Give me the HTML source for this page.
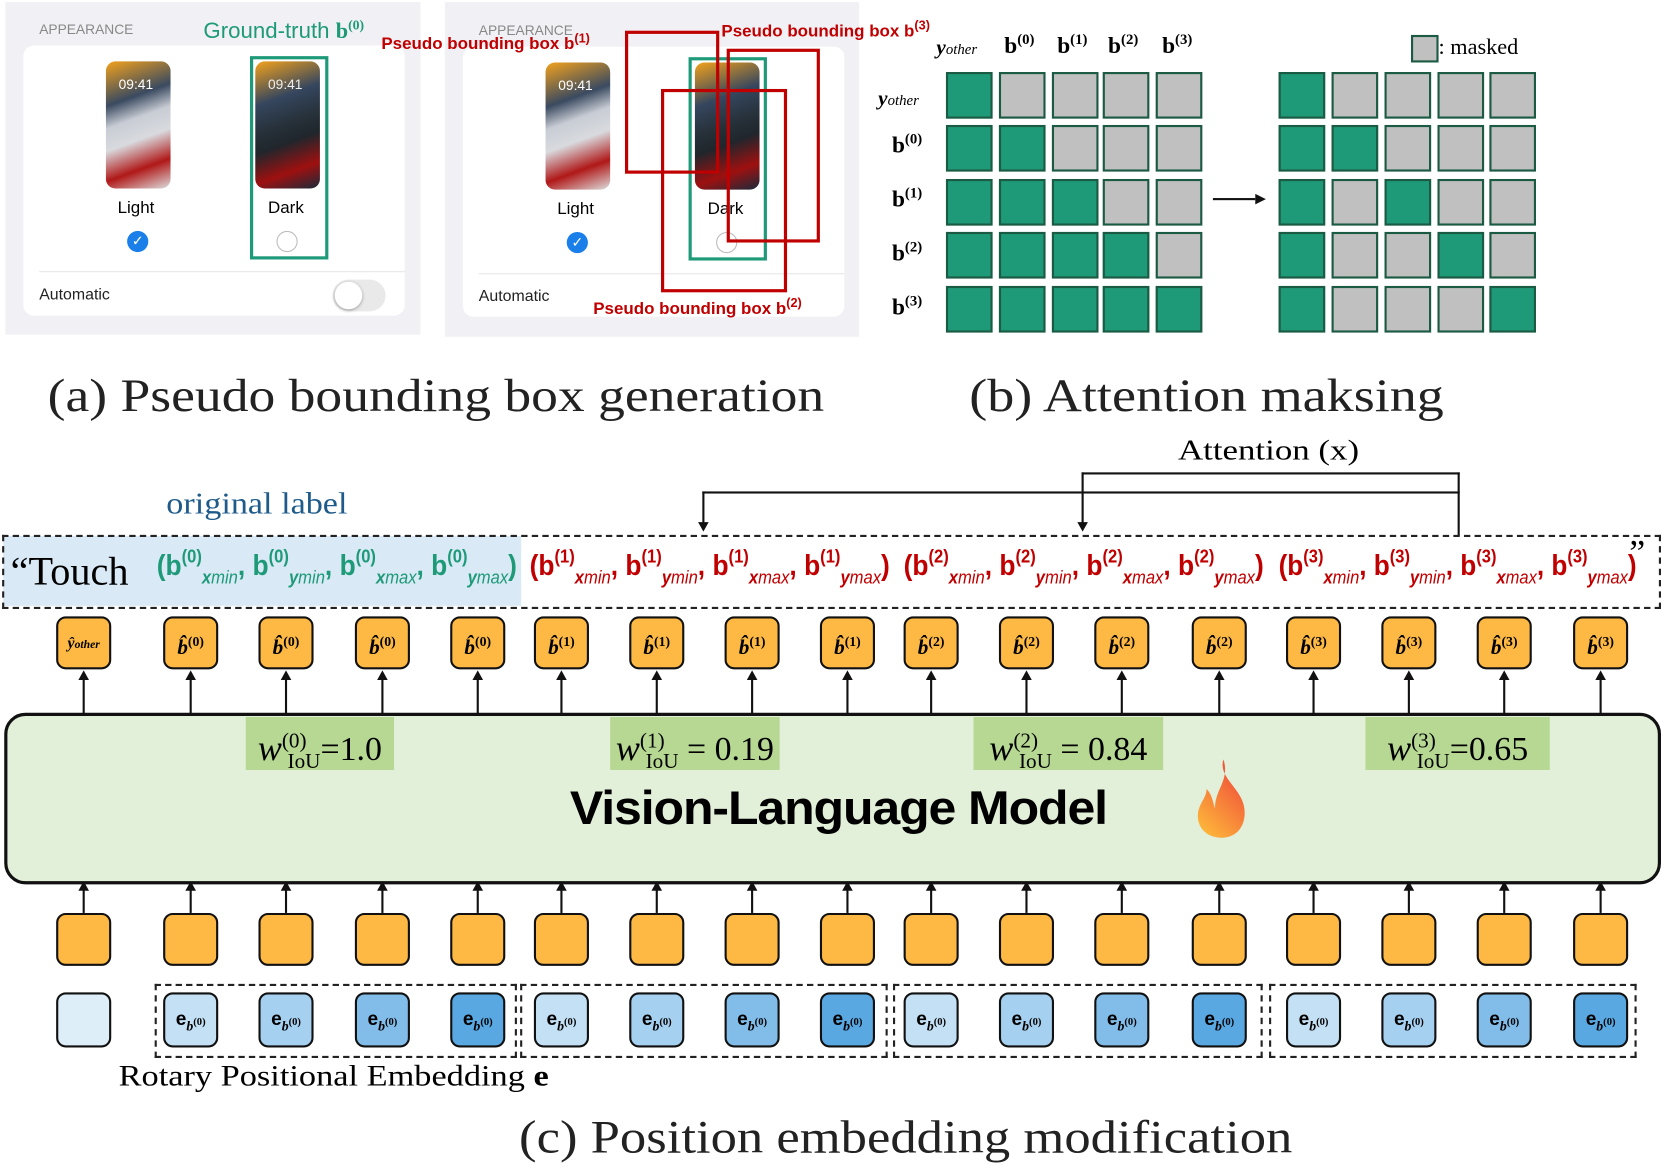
<!DOCTYPE html>
<html><head><meta charset="utf-8">
<style>
html,body{margin:0;padding:0;background:#fff;width:1661px;height:1165px;overflow:hidden}
#s{position:absolute;left:0;top:0;width:1568px;height:1100px;transform:scale(1.05931,1.0591);transform-origin:0 0;font-family:"Liberation Sans",sans-serif}
.a{position:absolute}
.serif{font-family:"Liberation Serif",serif}
.tok{position:absolute;width:52px;height:50px;background:#fdb944;border:2.5px solid #111;border-radius:9px;box-sizing:border-box;text-align:center;font-family:"Liberation Serif",serif;font-weight:bold;font-style:italic;font-size:20px;line-height:44px}
.tok sup{font-size:13px;font-style:normal}
.emb{position:absolute;width:52px;height:52px;border:2.5px solid #111;border-radius:9px;box-sizing:border-box;text-align:center;font-family:"Liberation Sans",sans-serif;font-weight:bold;font-size:18px;line-height:46px}
.emb sub{font-size:13px;font-style:italic;font-family:"Liberation Serif",serif}
.vl{position:absolute;width:2px;background:#111}
.ah{position:absolute;width:0;height:0;border-left:5px solid transparent;border-right:5px solid transparent;border-bottom:9px solid #111}
.ad{position:absolute;width:0;height:0;border-left:5px solid transparent;border-right:5px solid transparent;border-top:9px solid #111}
.cell{position:absolute;width:40px;height:40px;border:2px solid #1b5a43;box-sizing:content-box}
.tup{position:absolute;top:516px;font-family:"Liberation Sans",sans-serif;font-weight:bold;font-size:27px;white-space:nowrap;transform-origin:0 0}
.tup sup{font-size:17px;vertical-align:12px}
.tup sub{font-size:17px;vertical-align:-8px;font-style:italic}
.w{position:absolute;background:#b6d893;font-family:"Liberation Serif",serif;font-size:32px;height:50px;line-height:46px;text-align:center;white-space:nowrap}
.w i{font-size:34px}
.w sup,.w sub{font-style:normal;font-size:20px}
.cap{position:absolute;font-family:"Liberation Serif",serif;font-size:44px;color:#222;white-space:nowrap;transform-origin:0 0}
.fit{transform-origin:0 0;white-space:nowrap}
</style></head><body><div id="s">

<div class="a" style="left:5px;top:2px;width:392px;height:314px;background:#f1f1f5"></div>
<div class="a" style="left:22px;top:43px;width:360px;height:255px;background:#fff;border-radius:10px"></div>
<div class="a" style="left:37px;top:20px;font-size:13px;color:#888">APPEARANCE</div>
<div class="a" style="left:192px;top:16px;font-size:21px;color:#1e9a78">Ground-truth <b class="serif">b<sup style="font-size:13px">(0)</sup></b></div>
<div class="a" style="left:100px;top:58px;width:61px;height:120px;border-radius:9px;background:linear-gradient(160deg,#f3a21c 0%,#3a4a60 30%,#c8ccd4 45%,#d8dade 60%,#b01818 80%,#ddd 100%)"></div>
<div class="a" style="left:241px;top:58px;width:61px;height:120px;border-radius:9px;background:linear-gradient(160deg,#f3a21c 0%,#35465e 30%,#263038 50%,#20262c 62%,#9e1010 82%,#1a2a3a 100%)"></div>
<div class="a" style="left:112px;top:72px;color:#fff;font-size:13px">09:41</div>
<div class="a" style="left:253px;top:72px;color:#eee;font-size:13px">09:41</div>
<div class="a" style="left:111px;top:188px;font-size:16px">Light</div>
<div class="a" style="left:253px;top:188px;font-size:16px">Dark</div>
<div class="a" style="left:120px;top:218px;width:20px;height:20px;border-radius:50%;background:#1a7fe8;color:#fff;font-size:13px;text-align:center;line-height:20px">✓</div>
<div class="a" style="left:261px;top:218px;width:18px;height:18px;border-radius:50%;border:1px solid #bbb"></div>
<div class="a" style="left:236px;top:53px;width:68px;height:186px;border:3px solid #1e9a78"></div>
<div class="a" style="left:37px;top:256px;width:345px;height:1px;background:#e6e6e6"></div>
<div class="a" style="left:37px;top:270px;font-size:15px;color:#222">Automatic</div>
<div class="a" style="left:314px;top:264px;width:50px;height:30px;border-radius:15px;background:#e9e9ea"></div>
<div class="a" style="left:316px;top:266px;width:26px;height:26px;border-radius:50%;background:#fff;box-shadow:0 1px 3px #999"></div>

<div class="a" style="left:420px;top:2px;width:391px;height:316px;background:#f1f1f5"></div>
<div class="a" style="left:437px;top:44px;width:360px;height:255px;background:#fff;border-radius:10px"></div>
<div class="a" style="left:452px;top:21px;font-size:13px;color:#888">APPEARANCE</div>
<div class="a" style="left:515px;top:59px;width:61px;height:120px;border-radius:9px;background:linear-gradient(160deg,#f3a21c 0%,#3a4a60 30%,#c8ccd4 45%,#d8dade 60%,#b01818 80%,#ddd 100%)"></div>
<div class="a" style="left:656px;top:59px;width:61px;height:120px;border-radius:9px;background:linear-gradient(160deg,#f3a21c 0%,#35465e 30%,#263038 50%,#20262c 62%,#9e1010 82%,#1a2a3a 100%)"></div>
<div class="a" style="left:527px;top:73px;color:#fff;font-size:13px">09:41</div>
<div class="a" style="left:526px;top:189px;font-size:16px">Light</div>
<div class="a" style="left:668px;top:189px;font-size:16px">Dark</div>
<div class="a" style="left:535px;top:219px;width:20px;height:20px;border-radius:50%;background:#1a7fe8;color:#fff;font-size:13px;text-align:center;line-height:20px">✓</div>
<div class="a" style="left:676px;top:219px;width:18px;height:18px;border-radius:50%;border:1px solid #bbb"></div>
<div class="a" style="left:452px;top:258px;width:345px;height:1px;background:#e6e6e6"></div>
<div class="a" style="left:452px;top:271px;font-size:15px;color:#222">Automatic</div>
<div class="a" style="left:650px;top:54px;width:68px;height:186px;border:3px solid #1e9a78"></div>
<div class="a" style="left:590px;top:29px;width:83px;height:129px;border:3px solid #c00000"></div>
<div class="a" style="left:686px;top:46px;width:82px;height:177px;border:3px solid #c00000"></div>
<div class="a" style="left:624px;top:84px;width:113px;height:186px;border:3px solid #c00000"></div>
<div class="a" style="left:360px;top:29px;font-size:16px;font-weight:bold;color:#c00000;white-space:nowrap">Pseudo bounding box b<sup style="font-size:12px">(1)</sup></div>
<div class="a" style="left:681px;top:17px;font-size:16px;font-weight:bold;color:#c00000;white-space:nowrap">Pseudo bounding box b<sup style="font-size:12px">(3)</sup></div>
<div class="a" style="left:560px;top:279px;font-size:16px;font-weight:bold;color:#c00000;white-space:nowrap">Pseudo bounding box b<sup style="font-size:12px">(2)</sup></div>

<div id="mat"></div>
<div class="a serif" style="left:884px;top:34px;font-size:20px;font-weight:bold;font-style:italic">y<span style="font-size:14px;font-weight:normal">other</span></div>
<div class="a serif" style="left:948px;top:30px;font-size:22px;font-weight:bold">b<sup style="font-size:14px">(0)</sup></div>
<div class="a serif" style="left:998px;top:30px;font-size:22px;font-weight:bold">b<sup style="font-size:14px">(1)</sup></div>
<div class="a serif" style="left:1046px;top:30px;font-size:22px;font-weight:bold">b<sup style="font-size:14px">(2)</sup></div>
<div class="a serif" style="left:1097px;top:30px;font-size:22px;font-weight:bold">b<sup style="font-size:14px">(3)</sup></div>
<div class="a serif" style="left:829px;top:82px;font-size:20px;font-weight:bold;font-style:italic">y<span style="font-size:14px;font-weight:normal">other</span></div>
<div class="a serif" style="left:842px;top:124px;font-size:22px;font-weight:bold">b<sup style="font-size:14px">(0)</sup></div>
<div class="a serif" style="left:842px;top:175px;font-size:22px;font-weight:bold">b<sup style="font-size:14px">(1)</sup></div>
<div class="a serif" style="left:842px;top:226px;font-size:22px;font-weight:bold">b<sup style="font-size:14px">(2)</sup></div>
<div class="a serif" style="left:842px;top:277px;font-size:22px;font-weight:bold">b<sup style="font-size:14px">(3)</sup></div>
<div class="a" style="left:1145px;top:187px;width:40px;height:2px;background:#111"></div>
<div class="a" style="left:1185px;top:183px;border-top:5px solid transparent;border-bottom:5px solid transparent;border-left:10px solid #111"></div>
<div class="a" style="left:1332px;top:33px;width:22px;height:22px;background:#c0c0c0;border:2px solid #1b5a43"></div>
<div class="a serif" style="left:1358px;top:32px;font-size:21px">: masked</div>

<div class="cap" id="c1" style="left:45px;top:348px">(a) Pseudo bounding box generation</div>
<div class="cap" id="c2" style="left:915px;top:348px">(b) Attention maksing</div>

<div class="a serif fit" id="att" style="left:1112px;top:410px;font-size:27px">Attention (x)</div>
<div class="a" style="left:1021px;top:446px;width:357px;height:2px;background:#111"></div>
<div class="a" style="left:663px;top:464px;width:715px;height:2px;background:#111"></div>
<div class="vl" style="left:1376px;top:446px;height:60px"></div>
<div class="vl" style="left:1021px;top:446px;height:48px"></div>
<div class="ad" style="left:1017px;top:493px"></div>
<div class="vl" style="left:663px;top:464px;height:30px"></div>
<div class="ad" style="left:659px;top:493px"></div>

<div class="a serif fit" id="ol" style="left:157px;top:460px;font-size:29px;color:#1f5b8a">original label</div>
<div class="a" style="left:3px;top:506px;width:489px;height:66px;background:#d9e9f6"></div>
<div class="a" style="left:2px;top:505px;width:1562px;height:66px;border:2px dashed #222"></div>
<div class="a serif" style="left:10px;top:518px;font-size:38px">“Touch</div>
<div class="a serif" style="left:1538px;top:504px;font-size:34px">”</div>
<div id="tups"></div>

<div class="a" style="left:4px;top:673px;width:1558px;height:156px;background:#e2efd9;border:3px solid #111;border-radius:20px"></div>
<div class="w" style="left:232px;top:677px;width:140px"><i>w</i><sup>(0)</sup><sub style="margin-left:-18px">IoU</sub>=1.0</div>
<div class="w" style="left:576px;top:677px;width:160px"><i>w</i><sup>(1)</sup><sub style="margin-left:-18px">IoU</sub> = 0.19</div>
<div class="w" style="left:919px;top:677px;width:179px"><i>w</i><sup>(2)</sup><sub style="margin-left:-18px">IoU</sub> = 0.84</div>
<div class="w" style="left:1289px;top:677px;width:174px"><i>w</i><sup>(3)</sup><sub style="margin-left:-18px">IoU</sub>=0.65</div>
<div class="a fit" id="vlm" style="left:538px;top:737px;font-size:45px;font-weight:bold;letter-spacing:-1px">Vision-Language Model</div>
<svg class="a" style="left:1125px;top:715px" width="56" height="78" viewBox="0 0 56 78"><defs><linearGradient id="f" x1="0" y1="1" x2="0.6" y2="0"><stop offset="0" stop-color="#ffc23a"/><stop offset="1" stop-color="#f0503a"/></linearGradient></defs><path d="M30 2 C24 20 50 30 50 52 C50 68 40 76 28 76 C14 76 4 66 6 52 C8 42 14 38 14 30 C20 36 20 44 22 48 C22 30 36 22 30 2Z" fill="url(#f)"/></svg>

<div id="toks"></div>
<div class="a" style="left:146px;top:929px;width:338px;height:66px;border:2px dashed #222"></div>
<div class="a" style="left:491px;top:929px;width:343px;height:66px;border:2px dashed #222"></div>
<div class="a" style="left:843px;top:929px;width:345px;height:66px;border:2px dashed #222"></div>
<div class="a" style="left:1198px;top:929px;width:343px;height:66px;border:2px dashed #222"></div>
<div class="a serif fit" id="rpe" style="left:112px;top:1001px;font-size:28px">Rotary Positional Embedding <b>e</b></div>
<div class="cap" id="c3" style="left:490px;top:1048px">(c) Position embedding modification</div>
</div>
<script>
var h='';
var L=[893,943,993,1041,1091],R=[1207,1257,1307,1357,1406],T=[68,118,169,219,270];
for(var r=0;r<5;r++)for(var c=0;c<5;c++){
 h+='<div class="cell" style="left:'+L[c]+'px;top:'+T[r]+'px;background:'+(c<=r?'#1e9a78':'#c0c0c0')+'"></div>';
 h+='<div class="cell" style="left:'+R[c]+'px;top:'+T[r]+'px;background:'+((c==0||c==r)?'#1e9a78':'#c0c0c0')+'"></div>';}
document.getElementById('mat').innerHTML=h;
var X=[79,180,270,361,451,530,620,710,800,879,969,1059,1151,1240,1330,1420,1511];
var ec=['#c3e0f4','#a6d0f0','#82bce8','#5aa8e2'];
h='';
for(var i=0;i<17;i++){var x=X[i];
 var lab=i==0?'<span style="font-size:15px">ŷ<span style="font-size:11px">other</span></span>':'b̂<sup>('+Math.floor((i-1)/4)+')</sup>';
 h+='<div class="tok" style="left:'+(x-26)+'px;top:582px">'+lab+'</div>';
 h+='<div class="vl" style="left:'+(x-1)+'px;top:640px;height:34px"></div><div class="ah" style="left:'+(x-5)+'px;top:633px"></div>';
 h+='<div class="tok" style="left:'+(x-26)+'px;top:862px"></div>';
 h+='<div class="vl" style="left:'+(x-1)+'px;top:838px;height:24px"></div><div class="ah" style="left:'+(x-5)+'px;top:832px"></div>';
 h+='<div class="emb" style="left:'+(x-26)+'px;top:937px;background:'+(i==0?'#ddeef8':ec[(i-1)%4])+'">'+(i==0?'':'e<sub>b<sup style="font-size:10px;font-style:normal">(0)</sup></sub>')+'</div>';}
document.getElementById('toks').innerHTML=h;
var P=[[148,'#1e9a78',0,340],[500,'#c00000',1,340],[853,'#c00000',2,340],[1207,'#c00000',3,338]];h='';
P.forEach(function(p,k){var n=p[2],s='<sup>('+n+')</sup>';
 h+='<div class="tup" id="t'+k+'" style="left:'+p[0]+'px;color:'+p[1]+'">(b'+s+'<sub>x<i style="font-weight:normal">min</i></sub>, b'+s+'<sub>y<i style="font-weight:normal">min</i></sub>, b'+s+'<sub>x<i style="font-weight:normal">max</i></sub>, b'+s+'<sub>y<i style="font-weight:normal">max</i></sub>)</div>';});
document.getElementById('tups').innerHTML=h;
function fit(id,w){var e=document.getElementById(id);e.style.display='inline-block';var cw=e.getBoundingClientRect().width/1.05931;if(cw>0)e.style.transform='scaleX('+(w/cw)+')';}
for(var k=0;k<4;k++)fit('t'+k,P[k][3]);
fit('c1',733);fit('c2',448);fit('c3',730);fit('att',171);fit('ol',171);fit('rpe',406);fit('vlm',507);
</script>
</body></html>
